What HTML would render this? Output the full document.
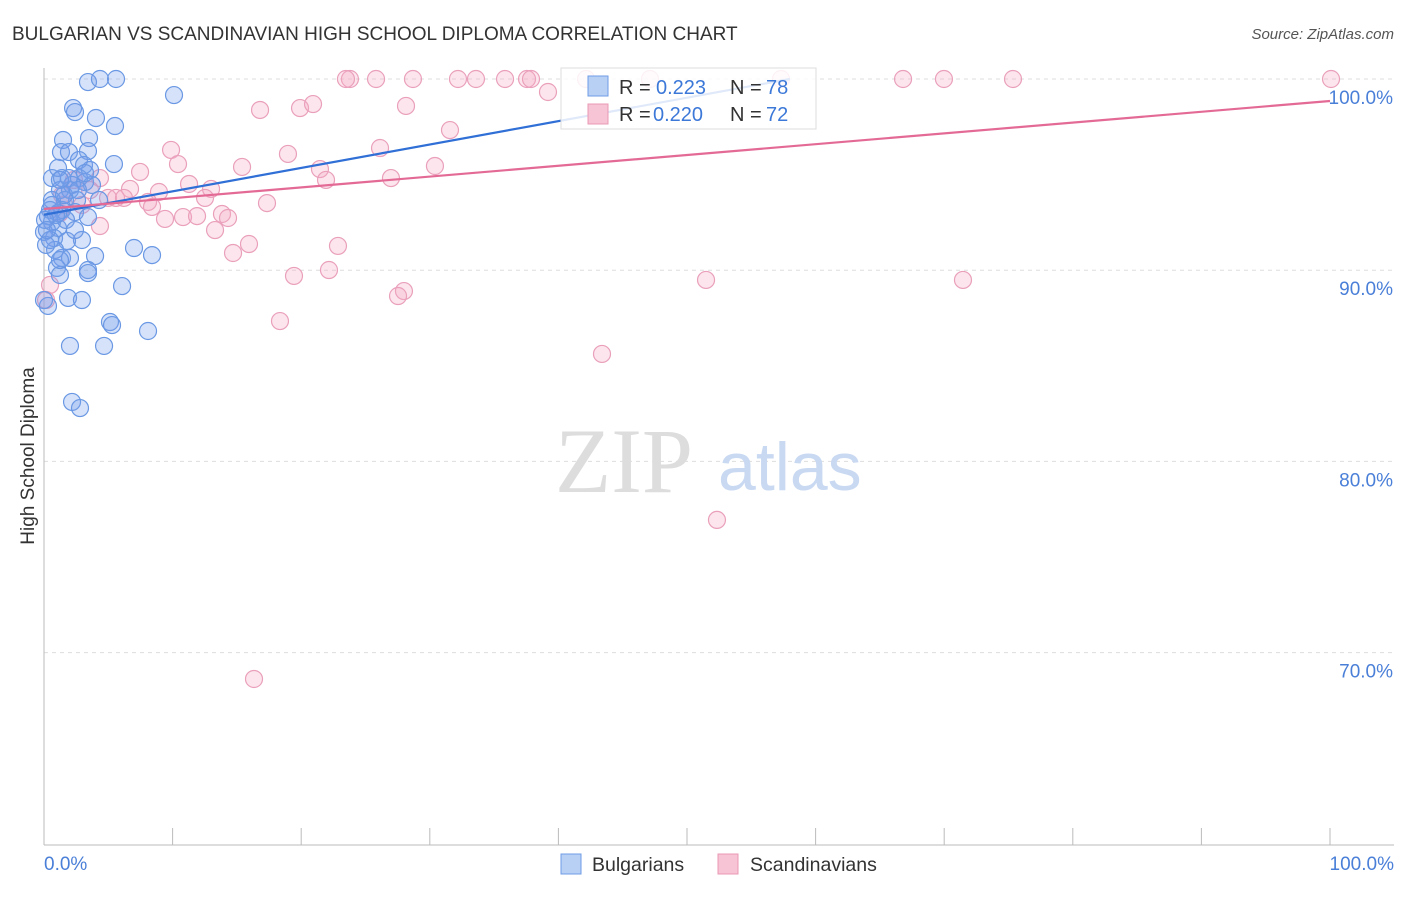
<!DOCTYPE html>
<html><head><meta charset="utf-8"><style>
body{margin:0;background:#fff;font-family:"Liberation Sans",sans-serif;}
svg text{font-family:"Liberation Sans",sans-serif;}
</style></head><body>
<svg id="chart" width="1406" height="892">
<text x="12" y="40" font-size="19" fill="#333">BULGARIAN VS SCANDINAVIAN HIGH SCHOOL DIPLOMA CORRELATION CHART</text>
<text x="1394" y="39" font-size="15" fill="#555" font-style="italic" text-anchor="end">Source: ZipAtlas.com</text>
<g id="grid"></g>
<line x1="44" y1="68" x2="44" y2="845" stroke="#bbb"/>
<line x1="44" y1="845" x2="1394" y2="845" stroke="#bbb"/>
<text x="555" y="492" font-size="92" fill="#ddd" style="font-family:'Liberation Serif',serif">ZIP</text>
<text x="718" y="490" font-size="68" fill="#c9d9f2">atlas</text>
<g id="pts"></g>
<g id="lines"></g>
<text transform="translate(34,456) rotate(-90)" font-size="19" fill="#333" text-anchor="middle">High School Diploma</text>
<text x="44" y="870" font-size="19" fill="#4a7fd8">0.0%</text>
<text x="1394" y="870" font-size="19" fill="#4a7fd8" text-anchor="end">100.0%</text>
<g>
<rect x="561" y="68" width="255" height="61" fill="rgba(255,255,255,0.85)" stroke="#ddd"/>
<rect x="588" y="76" width="20" height="20" fill="#b9d0f5" stroke="#6f9de6"/>
<text x="619" y="94" font-size="20" fill="#333">R =</text>
<text x="656" y="94" font-size="20" fill="#3c78d8">0.223</text>
<text x="730" y="94" font-size="20" fill="#333">N =</text>
<text x="766" y="94" font-size="20" fill="#3c78d8">78</text>
<rect x="588" y="104" width="20" height="20" fill="#f7c4d5" stroke="#e898b4"/>
<text x="619" y="121" font-size="20" fill="#333">R =</text>
<text x="653" y="121" font-size="20" fill="#3c78d8">0.220</text>
<text x="730" y="121" font-size="20" fill="#333">N =</text>
<text x="766" y="121" font-size="20" fill="#3c78d8">72</text>
</g>
<g>
<rect x="561" y="854" width="20" height="20" fill="#b9d0f5" stroke="#6f9de6"/>
<text x="592" y="871" font-size="19.5" fill="#333">Bulgarians</text></g>
<g>
<rect x="718" y="854" width="20" height="20" fill="#f7c4d5" stroke="#e898b4"/>
<text x="750" y="871" font-size="19.5" fill="#333">Scandinavians</text></g>
</svg>
<script>
const yTicks=[100,90,80,70];
const xTicks=[0,10,20,30,40,50,60,70,80,90,100];
const bluePx=[[88,82],[100,79],[116,79],[174,95],[73,108],[75,112],[96,118],[115,126],[63,140],[89,138],[61,152],[69,152],[88,151],[79,160],[84,165],[114,164],[90,170],[52,178],[62,178],[69,178],[79,178],[60,190],[70,190],[52,200],[65,200],[77,200],[99,200],[50,210],[62,210],[75,212],[88,217],[48,216],[52,222],[58,228],[44,232],[54,238],[82,240],[67,241],[134,248],[152,255],[95,256],[62,258],[70,258],[57,268],[88,270],[88,273],[60,275],[122,286],[68,298],[82,300],[48,306],[110,322],[112,325],[148,331],[70,346],[104,346],[72,402],[80,408],[44,300],[55,250],[66,220],[58,213],[72,185],[85,182],[92,185],[58,168],[64,195],[46,245],[50,240],[56,215],[60,180],[45,220],[47,230],[75,230],[60,260],[52,205],[78,190],[85,173]];
const pinkPx=[[350,79],[346,79],[376,79],[413,79],[458,79],[476,79],[505,79],[527,79],[531,79],[586,79],[650,79],[781,79],[903,79],[944,79],[1013,79],[1331,79],[548,92],[260,110],[300,108],[313,104],[406,106],[450,130],[380,148],[171,150],[288,154],[178,164],[140,172],[242,167],[320,169],[435,166],[326,180],[391,178],[189,184],[211,189],[130,189],[159,192],[100,178],[90,190],[108,198],[116,198],[124,198],[148,202],[152,207],[267,203],[205,198],[165,219],[183,217],[197,216],[222,214],[228,218],[215,230],[100,226],[249,244],[233,253],[338,246],[294,276],[329,270],[404,291],[398,296],[706,280],[963,280],[280,321],[602,354],[717,520],[254,679],[60,213],[74,180],[64,205],[50,285],[62,195],[46,300],[82,205]];
const blueX=bluePx.map(p=>+((p[0]-44)/12.86).toFixed(2));
const blueY=bluePx.map(p=>+(100-(p[1]-79)/19.12).toFixed(2));
const pinkX=pinkPx.map(p=>+((p[0]-44)/12.86).toFixed(2));
const pinkY=pinkPx.map(p=>+(100-(p[1]-79)/19.12).toFixed(2));
const blueTrend=[92.9,100];
const blueTrendX=[0,58];
const pinkTrend=[93.2,98.85];
const pinkTrendX=[0,100];
const NS="http://www.w3.org/2000/svg";
const sx=v=>44+v*12.86, sy=v=>79+(100-v)*19.12;
const grid=document.getElementById('grid');
yTicks.forEach(t=>{
 const l=document.createElementNS(NS,'line');
 l.setAttribute('x1',44);l.setAttribute('x2',1394);l.setAttribute('y1',sy(t));l.setAttribute('y2',sy(t));
 l.setAttribute('stroke','#ddd');l.setAttribute('stroke-dasharray','4,4');
 
 
 grid.appendChild(l);
 const tx=document.createElementNS(NS,'text');
 tx.setAttribute('x',1393);tx.setAttribute('y',sy(t)+25);tx.setAttribute('text-anchor','end');
 tx.setAttribute('font-size','19');tx.setAttribute('fill','#4a7fd8');tx.textContent=t.toFixed(1)+'%';
 
 
 grid.appendChild(tx);
});
xTicks.forEach(t=>{
 const l=document.createElementNS(NS,'line');
 l.setAttribute('x1',sx(t));l.setAttribute('x2',sx(t));l.setAttribute('y1',828);l.setAttribute('y2',845);
 l.setAttribute('stroke','#bbb');
 
 
 grid.appendChild(l);
});
const pts=document.getElementById('pts');
function dot(x,y,fill,stroke,name){
 const c=document.createElementNS(NS,'circle');
 c.setAttribute('cx',sx(x));c.setAttribute('cy',sy(y));c.setAttribute('r',8.5);
 c.setAttribute('fill',fill);c.setAttribute('stroke',stroke);c.setAttribute('stroke-width','1.2');
 
 
 pts.appendChild(c);
}
pinkX.forEach((x,i)=>dot(x,pinkY[i],'rgba(244,170,196,0.3)','#eaa0bb','scandinavian-point'));
blueX.forEach((x,i)=>dot(x,blueY[i],'rgba(120,160,235,0.3)','#6a98e4','bulgarian-point'));
const lines=document.getElementById('lines');
function tl(xs,ys,col,name){
 const l=document.createElementNS(NS,'line');
 l.setAttribute('x1',sx(xs[0]));l.setAttribute('y1',sy(ys[0]));l.setAttribute('x2',sx(xs[1]));l.setAttribute('y2',sy(ys[1]));
 l.setAttribute('stroke',col);l.setAttribute('stroke-width','2.2');
 
 
 lines.appendChild(l);
}
tl(blueTrendX,blueTrend,'#2f6fd6','bulgarian-trendline');
tl(pinkTrendX,pinkTrend,'#e46a96','scandinavian-trendline');
</script>
</body></html>
